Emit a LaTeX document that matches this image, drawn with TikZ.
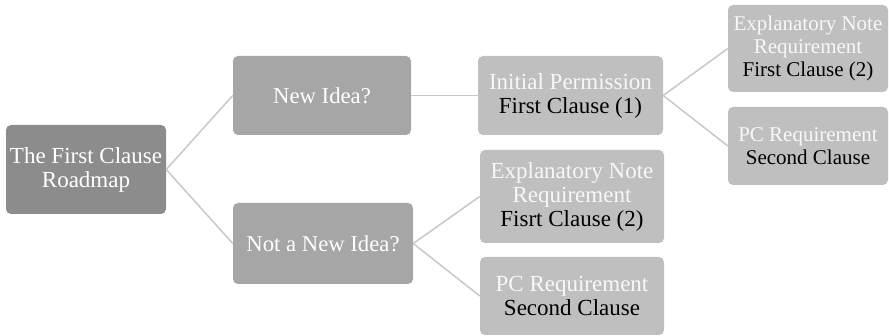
\documentclass[tikz,border=0pt]{standalone}
\usepackage{fontspec}
\setmainfont{Liberation Serif}
\definecolor{rootgray}{RGB}{140,140,140}
\definecolor{midgray}{RGB}{166,166,166}
\definecolor{lightgray2}{RGB}{191,191,191}
\definecolor{linkgray}{RGB}{200,200,200}
\definecolor{softwhite}{RGB}{248,248,248}
\begin{document}
\begin{tikzpicture}[x=1pt,y=-1pt,
  box/.style={rectangle, rounded corners=5pt, inner sep=0pt, align=center,
    font=\fontsize{23}{24}\selectfont, text=white},
  smallfont/.style={font=\fontsize{21}{23}\selectfont},
  rootbox/.style={box, fill=rootgray},
  levelbox/.style={box, fill=midgray, font=\fontsize{22.7}{24}\selectfont},
  leafbox/.style={box, fill=lightgray2, text=softwhite},
  link/.style={draw=linkgray, line width=1.5pt}]
\useasboundingbox (0,0) rectangle (889,336);
\node[rootbox, minimum width=160pt, minimum height=89pt] (root) at (86,169.5) {The First Clause\\Roadmap};
\node[levelbox, minimum width=178pt, minimum height=79pt] (new) at (322,95.5) {New Idea?};
\node[levelbox, minimum width=180pt, minimum height=81pt] (notnew) at (323,243.5) {Not a New Idea?};
\node[leafbox, minimum width=185pt, minimum height=79pt] (init) at (570.5,95.5) {Initial Permission\\\textcolor{black}{First Clause (1)}};
\node[leafbox, minimum width=184pt, minimum height=93pt] (explmid) at (572,196.5) {Explanatory Note\\Requirement\\\textcolor{black}{Fisrt Clause (2)}};
\node[leafbox, minimum width=184pt, minimum height=78pt] (pcmid) at (572,296) {PC Requirement\\\textcolor{black}{Second Clause}};
\node[leafbox, smallfont, minimum width=160pt, minimum height=87pt] (explright) at (808,48.5) {Explanatory Note\\Requirement\\\textcolor{black}{First Clause (2)}};
\node[leafbox, smallfont, minimum width=160pt, minimum height=78pt] (pcright) at (808,146) {PC Requirement\\\textcolor{black}{Second Clause}};
\draw[link] (root.east) -- (new.west);
\draw[link] (root.east) -- (notnew.west);
\draw[link] (new.east) -- (init.west);
\draw[link] (init.east) -- (explright.west);
\draw[link] (init.east) -- (pcright.west);
\draw[link] (notnew.east) -- (explmid.west);
\draw[link] (notnew.east) -- (pcmid.west);
\end{tikzpicture}
\end{document}
